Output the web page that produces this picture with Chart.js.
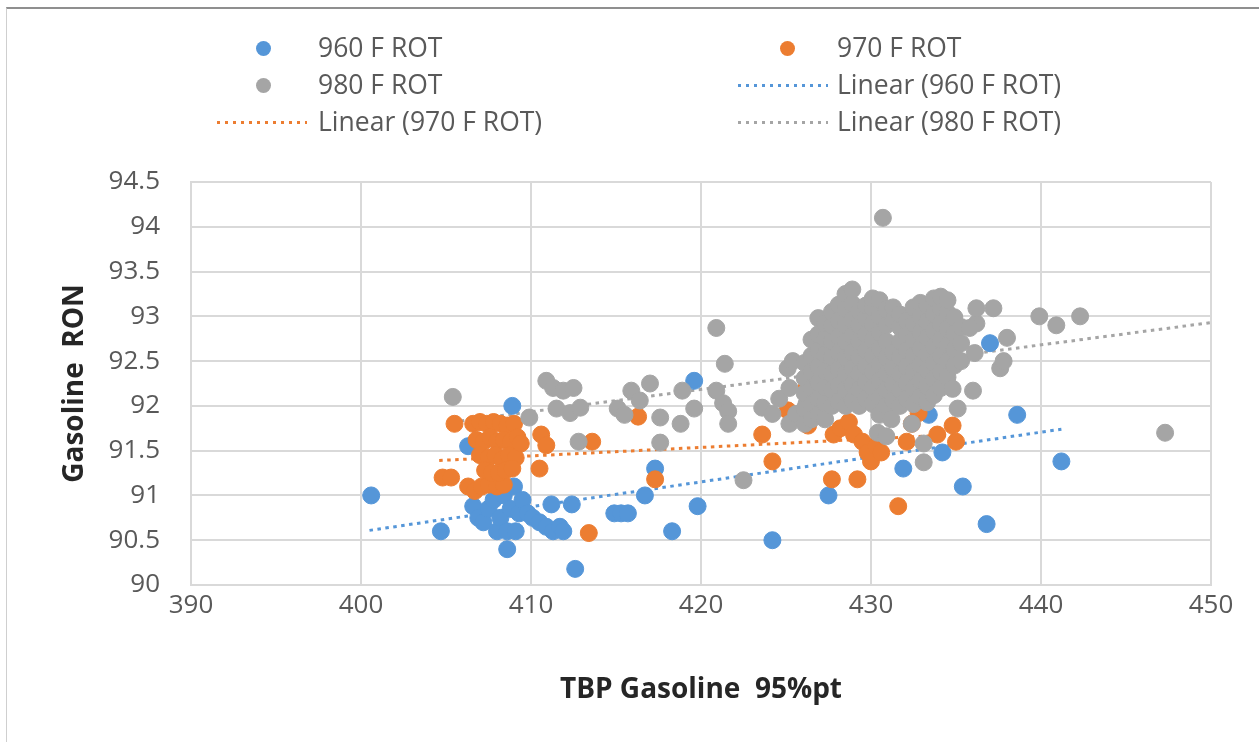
<!DOCTYPE html>
<html><head><meta charset="utf-8">
<script src="https://cdn.jsdelivr.net/npm/chart.js@4.4.1/dist/chart.umd.min.js"></script>
<style>
html,body{margin:0;padding:0;background:#fff;}
#wrap{position:relative;width:1259px;height:742px;overflow:hidden;font-family:"Open Sans",sans-serif;background:#fff;}
#frame{position:absolute;left:6px;top:7px;width:1270px;height:760px;border-top:2px solid #8f8f8f;border-left:1.5px solid #cfcfcf;}
canvas{position:absolute;left:0;top:0;}
.lg{position:absolute;font-size:26.5px;color:#595959;line-height:36px;height:36px;white-space:nowrap;}
.mk{position:absolute;width:15px;height:15px;border-radius:50%;}
.ln{position:absolute;height:3px;}
</style></head>
<body><div id="wrap"><div id="frame"></div><canvas id="c" width="1259" height="742"></canvas><div id="legend"></div></div>
<script>
// ---- data ----
const seriesNames = ['960 F ROT', '970 F ROT', '980 F ROT'];
const xTickLabels = ['390', '400', '410', '420', '430', '440', '450'];
const yTickLabels = ['90', '90.5', '91', '91.5', '92', '92.5', '93', '93.5', '94', '94.5'];
const xTitle = 'TBP Gasoline  95%pt';
const yTitle = 'Gasoline  RON';

const series960 = [
 [400.6,91.0],[404.7,90.6],[406.3,91.55],[406.6,90.88],[406.9,90.75],[407.2,90.7],[407.5,90.85],[407.8,90.95],
 [408.0,90.6],[408.2,90.75],[408.4,91.0],[408.6,90.4],[408.6,90.6],[408.8,90.85],[408.9,92.0],[409.0,91.1],
 [409.1,90.6],[409.3,90.8],[409.5,90.95],[409.8,90.8],[410.1,90.75],[410.5,90.7],[410.9,90.65],[411.2,90.9],
 [411.3,90.6],[411.7,90.65],[411.9,90.6],[412.4,90.9],[412.6,90.18],[414.9,90.8],[415.3,90.8],[415.7,90.8],
 [416.7,91.0],[417.3,91.3],[418.3,90.6],[419.6,92.28],[419.8,90.88],[424.2,90.5],[427.5,91.0],[431.9,91.3],
 [433.4,91.9],[434.2,91.48],[435.4,91.1],[436.8,90.68],[437.0,92.7],[438.6,91.9],[441.2,91.38]
];
const series970 = [
 [404.8,91.2],[405.3,91.2],[405.5,91.8],[406.3,91.1],[406.7,91.05],[407.1,91.1],[407.5,91.12],[408.0,91.1],[408.4,91.12],
 [406.6,91.8],[407.0,91.82],[407.4,91.8],[407.8,91.82],[408.2,91.8],[408.6,91.78],[409.0,91.8],
 [406.8,91.62],[407.2,91.6],[407.6,91.65],[408.0,91.6],[408.4,91.62],[408.8,91.6],[409.2,91.65],
 [407.0,91.45],[407.5,91.42],[407.9,91.45],[408.3,91.4],[408.7,91.45],[409.1,91.42],
 [407.3,91.28],[407.7,91.25],[408.1,91.25],[408.5,91.28],[408.9,91.3],
 [409.4,91.58],[410.5,91.3],[410.6,91.68],[410.9,91.56],[413.4,90.58],[413.6,91.6],[416.3,91.88],[417.3,91.18],
 [423.6,91.68],[424.2,91.38],[425.1,91.95],[426.2,92.2],[426.3,91.78],[427.7,91.18],[427.8,91.68],
 [428.2,91.75],[428.7,91.82],[429.0,91.68],[429.2,91.18],[429.5,91.6],[429.8,91.48],[430.0,91.38],
 [430.3,91.55],[430.6,91.48],[431.6,90.88],[432.1,91.6],[432.4,91.8],[432.8,91.92],[433.9,91.68],
 [434.8,91.78],[435.0,91.6]
];
const series980 = [
 [405.4,92.1],[409.9,91.87],[410.9,92.28],[411.3,92.2],[411.5,91.97],[411.9,92.17],[412.3,91.92],[412.5,92.2],
 [412.9,91.98],[412.8,91.6],[415.1,91.97],[415.5,91.9],[415.9,92.17],[416.4,92.06],[417.0,92.25],[417.6,91.87],
 [417.6,91.59],[418.8,91.8],[418.9,92.17],[419.6,91.97],[420.9,92.87],[421.4,92.47],[420.9,92.17],[421.3,92.03],
 [421.6,91.94],[421.6,91.8],[422.5,91.17],[423.6,91.98],[424.2,91.91],[424.6,92.08],[425.2,92.2],[425.1,92.42],
 [425.4,92.5],[425.2,91.8],[425.6,91.91],[426.2,92.02],
 [426.1,91.8],[426.1,91.97],[426.1,92.14],[426.1,92.31],[426.1,92.48],
 [426.5,91.85],[426.5,92.02],[426.5,92.2],[426.5,92.38],[426.5,92.56],[426.5,92.74],
 [426.9,91.9],[426.9,92.08],[426.9,92.26],[426.9,92.44],[426.9,92.62],[426.9,92.8],[426.9,92.98],
 [427.3,91.85],[427.3,92.03],[427.3,92.21],[427.3,92.39],[427.3,92.57],[427.3,92.75],[427.3,92.92],
 [427.7,92.0],[427.7,92.18],[427.7,92.36],[427.7,92.54],[427.7,92.72],[427.7,92.9],[427.7,93.05],
 [428.1,92.05],[428.1,92.23],[428.1,92.41],[428.1,92.59],[428.1,92.77],[428.1,92.95],[428.1,93.13],
 [428.5,92.0],[428.5,92.18],[428.5,92.36],[428.5,92.54],[428.5,92.72],[428.5,92.9],[428.5,93.08],[428.5,93.25],
 [428.9,92.06],[428.9,92.24],[428.9,92.42],[428.9,92.6],[428.9,92.78],[428.9,92.96],[428.9,93.14],[428.9,93.3],
 [429.3,92.0],[429.3,92.18],[429.3,92.36],[429.3,92.54],[429.3,92.72],[429.3,92.9],[429.3,93.06],
 [429.7,92.08],[429.7,92.26],[429.7,92.44],[429.7,92.62],[429.7,92.8],[429.7,92.98],[429.7,93.12],
 [430.1,92.02],[430.1,92.2],[430.1,92.38],[430.1,92.56],[430.1,92.74],[430.1,92.92],[430.1,93.1],[430.1,93.2],
 [430.5,91.9],[430.5,92.1],[430.5,92.28],[430.5,92.46],[430.5,92.64],[430.5,92.82],[430.5,93.0],[430.5,93.18],
 [430.9,92.0],[430.9,92.18],[430.9,92.36],[430.9,92.54],[430.9,92.72],[430.9,92.9],[430.9,93.08],
 [431.3,92.06],[431.3,92.24],[431.3,92.42],[431.3,92.6],[431.3,92.95],[431.3,93.1],
 [431.7,92.0],[431.7,92.18],[431.7,92.36],[431.7,92.54],[431.7,92.72],[431.7,92.88],[431.7,93.02],
 [432.1,92.08],[432.1,92.26],[432.1,92.44],[432.1,92.62],[432.1,92.8],[432.1,92.95],
 [432.5,92.02],[432.5,92.2],[432.5,92.38],[432.5,92.56],[432.5,92.74],[432.5,92.92],[432.5,93.1],
 [432.9,92.1],[432.9,92.28],[432.9,92.46],[432.9,92.64],[432.9,92.82],[432.9,93.0],[432.9,93.15],
 [433.3,92.04],[433.3,92.22],[433.3,92.4],[433.3,92.58],[433.3,92.76],[433.3,92.94],[433.3,93.12],
 [433.7,92.12],[433.7,92.3],[433.7,92.48],[433.7,92.66],[433.7,92.84],[433.7,93.02],[433.7,93.2],
 [434.1,92.2],[434.1,92.38],[434.1,92.56],[434.1,92.74],[434.1,92.92],[434.1,93.1],[434.1,93.22],
 [434.5,92.32],[434.5,92.5],[434.5,92.68],[434.5,92.86],[434.5,93.04],[434.5,93.18],
 [434.9,92.45],[434.9,92.63],[434.9,92.81],[434.9,92.99],
 [435.3,92.5],[435.3,92.7],[435.3,92.88],
 [430.7,94.1],[430.4,91.7],[430.9,91.66],[431.2,91.85],[432.4,91.8],[433.1,91.58],[433.1,91.37],
 [434.8,92.19],[435.1,91.97],[436.0,92.17],[436.1,92.59],[436.2,92.92],[435.8,92.87],[436.2,93.09],
 [437.2,93.09],[437.6,92.42],[437.8,92.5],[438.0,92.76],[439.9,93.0],[440.9,92.9],[442.3,93.0],[447.3,91.7]
];
// linear trendline end points, as drawn in the reference
const trend960 = [[400.5, 90.61], [441.2, 91.74]];
const trend970 = [[404.6, 91.39], [435.1, 91.68]];
const trend980 = [[405.4, 91.82], [450.0, 92.93]];

// ---- styling ----
const colors = ['#5596D8', '#EC7D31', '#A5A5A5'];
const toPts = arr => arr.map(p => ({x: p[0], y: p[1]}));

function scatterSet(i, data, order) {
  return {label: seriesNames[i], data: toPts(data), backgroundColor: colors[i], borderColor: colors[i],
    borderWidth: 1, pointRadius: 8.5, pointHoverRadius: 8.5, order: order};
}
function trendSet(i, data) {
  return {label: 'Linear (' + seriesNames[i] + ')', data: toPts(data), showLine: true, pointRadius: 0,
    borderColor: colors[i], borderWidth: 3, borderDash: [3.5, 4.5], borderCapStyle: 'butt', fill: false, order: 10};
}

new Chart(document.getElementById('c'), {
  type: 'scatter',
  data: {datasets: [
    scatterSet(0, series960, 3), scatterSet(1, series970, 2), scatterSet(2, series980, 1),
    trendSet(0, trend960), trendSet(1, trend970), trendSet(2, trend980)
  ]},
  options: {
    responsive: false, animation: false, devicePixelRatio: 1, events: [],
    layout: {padding: {left: 0, right: 48, top: 182, bottom: 0}},
    plugins: {legend: {display: false}, tooltip: {enabled: false}},
    scales: {
      x: {type: 'linear', min: 390, max: 450,
        ticks: {stepSize: 10, autoSkip: false, maxRotation: 0, padding: 5, color: '#595959',
          font: {family: 'Open Sans', size: 26}, callback: (v, i) => xTickLabels[i]},
        grid: {color: '#d9d9d9', lineWidth: 2, drawTicks: false},
        border: {color: '#d9d9d9', width: 2},
        title: {display: true, text: xTitle, color: '#262626',
          font: {family: 'Open Sans', size: 28, weight: 'bold'}, padding: {top: 0, bottom: 35}},
        afterFit: s => { s.height = 157; }
      },
      y: {type: 'linear', min: 90, max: 94.5,
        ticks: {stepSize: 0.5, autoSkip: false, padding: 31, color: '#595959',
          font: {family: 'Open Sans', size: 26}, callback: (v, i) => yTickLabels[i]},
        grid: {color: '#d9d9d9', lineWidth: 2, drawTicks: false},
        border: {color: '#d9d9d9', width: 2},
        title: {display: true, text: yTitle, color: '#262626',
          font: {family: 'Open Sans', size: 28, weight: 'bold'}, padding: {top: 58, bottom: 0}},
        afterFit: s => { s.width = 191; }
      }
    }
  }
});

// ---- legend (Excel-style two-column layout) ----
const legendItems = [
  {kind: 'marker', s: 0, x: 263, y: 48, tx: 318, text: seriesNames[0]},
  {kind: 'marker', s: 1, x: 787, y: 48, tx: 837, text: seriesNames[1]},
  {kind: 'marker', s: 2, x: 263, y: 85, tx: 318, text: seriesNames[2]},
  {kind: 'line', s: 0, x1: 738, x2: 828, y: 85, tx: 837, text: 'Linear (' + seriesNames[0] + ')'},
  {kind: 'line', s: 1, x1: 217, x2: 307, y: 122, tx: 318, text: 'Linear (' + seriesNames[1] + ')'},
  {kind: 'line', s: 2, x1: 738, x2: 828, y: 122, tx: 837, text: 'Linear (' + seriesNames[2] + ')'}
];
const lg = document.getElementById('legend');
legendItems.forEach(it => {
  const sym = document.createElement('div');
  if (it.kind === 'marker') {
    sym.className = 'mk';
    sym.style.left = (it.x - 7.5) + 'px'; sym.style.top = (it.y - 7.5) + 'px';
    sym.style.background = colors[it.s];
  } else {
    sym.className = 'ln';
    sym.style.left = it.x1 + 'px'; sym.style.top = (it.y - 1.5) + 'px';
    sym.style.width = (it.x2 - it.x1) + 'px';
    sym.style.background = 'repeating-linear-gradient(to right,' + colors[it.s] + ' 0 3.5px, transparent 3.5px 8px)';
  }
  lg.appendChild(sym);
  const t = document.createElement('div');
  t.className = 'lg'; t.textContent = it.text;
  t.style.left = it.tx + 'px'; t.style.top = (it.y - 19) + 'px';
  lg.appendChild(t);
});
</script>
</body></html>
